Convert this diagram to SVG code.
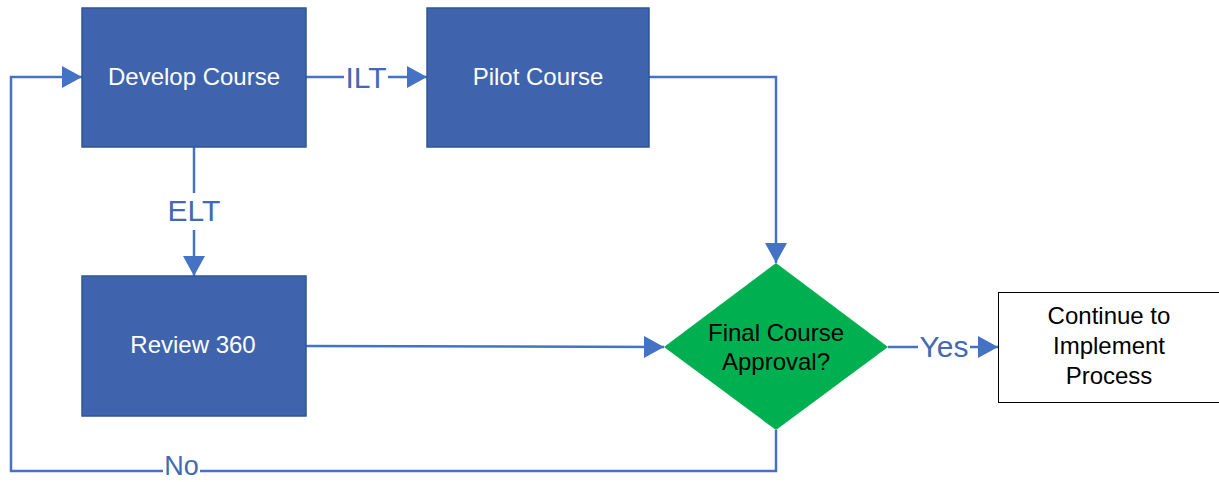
<svg xmlns="http://www.w3.org/2000/svg" width="1219" height="482" viewBox="0 0 1219 482">
<style>
.box{fill:#3F64AD;stroke:#2F5597;stroke-width:1.5}
.wt{fill:#FFFFFF;font-family:"Liberation Sans",Arial,sans-serif;font-size:24px;text-anchor:middle}
.bt{fill:#000000;font-family:"Liberation Sans",Arial,sans-serif;font-size:24px;text-anchor:middle}
.conn{fill:none;stroke:#4472C4;stroke-width:2.5}
.lbl{fill:#4169B4;font-family:"Liberation Sans",Arial,sans-serif;font-size:30px;text-anchor:middle}
</style>
<defs>
<marker id="arr" markerUnits="userSpaceOnUse" markerWidth="20" markerHeight="22" refX="20" refY="11" orient="auto">
<path d="M0,0 L20,11 L0,22 z" fill="#4472C4"/>
</marker>
</defs>
<rect width="1219" height="482" fill="#FFFFFF"/>
<g id="connectors">
<path class="conn" d="M306,77 H344"/>
<path class="conn" d="M388,77 H427" marker-end="url(#arr)"/>
<text class="lbl" x="366" y="88">ILT</text>
<path class="conn" d="M194,147 V193"/>
<path class="conn" d="M194,230 V276" marker-end="url(#arr)"/>
<text class="lbl" x="194" y="221">ELT</text>
<path class="conn" d="M306,346 L664,347" marker-end="url(#arr)"/>
<path class="conn" d="M649,77 H776 V263" marker-end="url(#arr)"/>
<path class="conn" d="M888,347 H918"/>
<path class="conn" d="M970,347 H998" marker-end="url(#arr)"/>
<text class="lbl" x="944" y="357">Yes</text>
<path class="conn" d="M776,430 V471 H200"/>
<path class="conn" d="M163,471 H11 V77 H82" marker-end="url(#arr)"/>
<text class="lbl" x="181.5" y="475" style="font-size:27px">No</text>
</g>
<g id="develop">
<rect class="box" x="82" y="8" width="224" height="139"/>
<text class="wt" x="194" y="85">Develop Course</text>
</g>
<g id="pilot">
<rect class="box" x="427" y="8" width="222" height="139"/>
<text class="wt" x="538" y="85">Pilot Course</text>
</g>
<g id="review">
<rect class="box" x="82" y="276" width="224" height="140"/>
<text class="wt" x="193" y="353">Review 360</text>
</g>
<g id="approval">
<polygon points="776,263 888,347 776,430 664,347" fill="#00B050"/>
<text class="bt" x="776" y="341">Final Course</text>
<text class="bt" x="776" y="370">Approval?</text>
</g>
<g id="continue">
<rect x="998.5" y="292.5" width="221" height="110" fill="#FFFFFF" stroke="#000000" stroke-width="1"/>
<text class="bt" x="1109" y="324">Continue to</text>
<text class="bt" x="1109" y="354">Implement</text>
<text class="bt" x="1109" y="384">Process</text>
</g>
</svg>
